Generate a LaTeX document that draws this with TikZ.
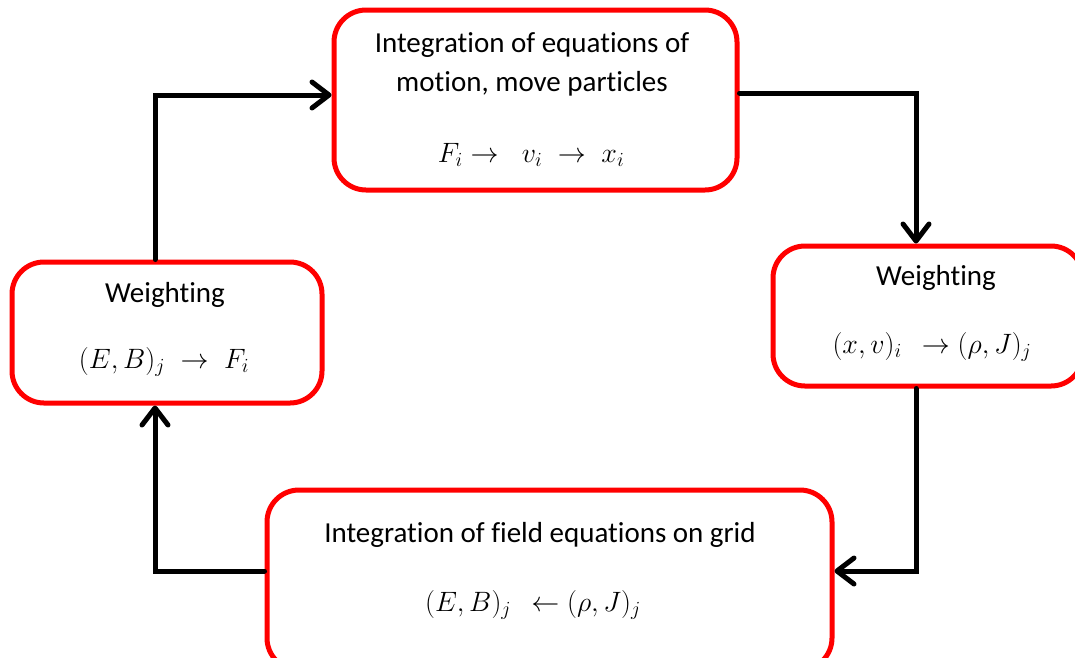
\documentclass[tikz,border=0pt]{standalone}
\usepackage{fix-cm}
\usepackage{fontspec}
\setmainfont[Ligatures=NoCommon]{Carlito}
\DeclareMathSizes{28}{28}{20}{15}
\usetikzlibrary{arrows.meta}
\begin{document}
\begin{tikzpicture}[x=1pt,y=-1pt,
  box/.style={draw=red, line width=5pt, rounded corners=32pt, inner sep=0pt},
  lbl/.style={font=\fontsize{29}{34}\selectfont, inner sep=0pt},
  mth/.style={font=\fontsize{28}{34}\selectfont, inner sep=0pt},
  conn/.style={line width=5pt, line cap=round, line join=miter, -{Straight Barb[length=17pt,width=26pt,line width=5pt,round]}}]
\useasboundingbox (0,0) rectangle (1075,657);
\fill[white] (0,0) rectangle (1075,657);
% boxes
\node[box, minimum width=403pt, minimum height=180pt] (top) at (535.5,100) {};
\node[box, minimum width=310pt, minimum height=140pt] (right) at (928,316) {};
\node[box, minimum width=310pt, minimum height=141pt] (left) at (167,332.5) {};
\node[box, minimum width=565pt, minimum height=180pt] (bottom) at (549.5,580) {};
% texts
\node[lbl] (t1) at (532,45) {Integration of equations of};
\node[lbl] (t2) at (532,84) {motion, move particles};
\node[mth] (t3) at (531,155) {$F_i \rightarrow\;\; v_i \;\rightarrow\; x_i$};
\node[lbl] (r1) at (936,278) {Weighting};
\node[mth] (r2) at (932,347) {$(x,v)_i\;\, \rightarrow (\rho,J)_j$};
\node[lbl] (l1) at (165,295) {Weighting};
\node[mth] (l2) at (164,362) {$(E,B)_j\; \rightarrow\; F_i$};
\node[lbl] (b1) at (540,535) {Integration of field equations on grid};
\node[mth] (b2) at (533,605) {$(E,B)_j\;\, \leftarrow (\rho,J)_j$};
% connector corners
\coordinate (c1) at (155,95);
\coordinate (c2) at (916,93);
\coordinate (c3) at (916,571);
\coordinate (c4) at (155,571);
\draw[conn] (left.north -| c1) -- (c1) -- (c1 -| top.west);
\draw[conn] (c2 -| top.east) -- (c2) -- (c2 |- right.north);
\draw[conn] (c3 |- right.south) -- (c3) -- (c3 -| bottom.east);
\draw[conn] (c4 -| bottom.west) -- (c4) -- (c4 |- left.south);
\end{tikzpicture}
\end{document}
